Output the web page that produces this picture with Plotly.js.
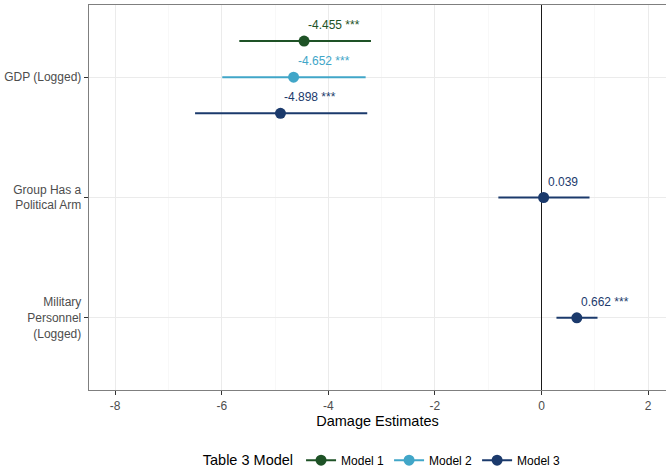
<!DOCTYPE html>
<html>
<head>
<meta charset="utf-8">
<script src="https://cdn.plot.ly/plotly-3.0.1.min.js"></script>
<style>html,body{margin:0;padding:0;background:#fff;}#chart{width:666px;height:471px;}</style>
</head>
<body>
<div id="chart"></div>
<script>
// ---- data ----
const categories = ["GDP (Logged)", "Group Has a<br>Political Arm", "Military<br>Personnel<br>(Logged)"];
const models = ["Model 1", "Model 2", "Model 3"];
const colors = ["#1e5226", "#41a6c8", "#1b3a6c"];
const xTickVals = [-8, -6, -4, -2, 0, 2];
const xTickText = ["-8", "-6", "-4", "-2", "0", "2"];
// estimates per model (null = not in model), aligned with categories
const est1 = [-4.455, null, null];
const est2 = [-4.652, null, null];
const est3 = [-4.898, 0.039, 0.662];
const lo1 = [-5.67, null, null];
const lo2 = [-5.99, null, null];
const lo3 = [-6.50, -0.81, 0.28];
const hi1 = [-3.20, null, null];
const hi2 = [-3.30, null, null];
const hi3 = [-3.27, 0.90, 1.05];
const stars1 = ["***", "", ""];
const stars2 = ["***", "", ""];
const stars3 = ["***", "", "***"];

const ests = [est1, est2, est3];
const los = [lo1, lo2, lo3];
const his = [hi1, hi2, hi3];
const stars = [stars1, stars2, stars3];

// dodge positions (ggplot-like position_dodge, width 0.9)
const dodgeW = 0.9;
function dodgePos(mi, ci) {
  const present = [];
  for (let m = 0; m < models.length; m++) if (ests[m][ci] !== null) present.push(m);
  const n = present.length;
  const k = present.indexOf(mi);
  return (ci + 1) + (k - (n - 1) / 2) * (dodgeW / n);
}

const FONT = "Liberation Sans, Arial, sans-serif";
const traces = [];
const annotations = [];
models.forEach((name, mi) => {
  const xs = [], ys = [], ep = [], em = [];
  categories.forEach((c, ci) => {
    const v = ests[mi][ci];
    if (v === null) return;
    const y = dodgePos(mi, ci);
    if (xs.length) { xs.push(null); ys.push(null); ep.push(null); em.push(null); }
    xs.push(v); ys.push(y);
    ep.push(his[mi][ci] - v); em.push(v - los[mi][ci]);
    const label = v.toFixed(3) + (stars[mi][ci] ? " " + stars[mi][ci] : "");
    annotations.push({
      x: v, y: y, xref: "x", yref: "y",
      text: label, showarrow: false,
      xanchor: "left", yanchor: "middle",
      xshift: 2, yshift: 16,
      font: {family: FONT, size: 12, color: colors[mi]}
    });
  });
  traces.push({
    type: "scatter", mode: "lines+markers", name: name,
    x: xs, y: ys, connectgaps: false,
    line: {color: colors[mi], width: 2},
    marker: {color: colors[mi], size: 11},
    error_x: {type: "data", symmetric: false, array: ep, arrayminus: em,
              color: colors[mi], thickness: 2, width: 0},
    cliponaxis: false
  });
});

const layout = {
  width: 666, height: 471,
  margin: {l: 89, r: 0, t: 5, b: 81},
  paper_bgcolor: "#fff", plot_bgcolor: "#fff",
  font: {family: FONT, size: 12, color: "#4d4d4d"},
  showlegend: true,
  xaxis: {
    range: [-8.49, 2.335],
    tickmode: "array", tickvals: xTickVals, ticktext: xTickText,
    ticks: "outside", ticklen: 4, tickcolor: "#333", tickwidth: 1,
    tickfont: {size: 12, color: "#4d4d4d"},
    showgrid: true, gridcolor: "#ebebeb", gridwidth: 1,
    minor: {tick0: 1, dtick: 2, tickmode: "linear", showgrid: true, gridcolor: "#f4f4f4", gridwidth: 0.6, ticks: ""},
    zeroline: true, zerolinecolor: "#1a1a1a", zerolinewidth: 1,
    showline: true, linecolor: "#7f7f7f", linewidth: 1.3, mirror: true,
    automargin: false,
    title: {text: "Damage Estimates", font: {size: 14.5, color: "#000"}, standoff: 4}
  },
  yaxis: {
    range: [3.6, 0.4],
    tickmode: "array", tickvals: categories.map((c, i) => i + 1), ticktext: categories,
    ticks: "outside", ticklen: 4, tickcolor: "#333", tickwidth: 1,
    tickfont: {size: 12, color: "#4d4d4d"},
    showgrid: true, gridcolor: "#ebebeb", gridwidth: 1,
    zeroline: false, automargin: false,
    showline: true, linecolor: "#7f7f7f", linewidth: 1.3, mirror: false
  },
  legend: {
    orientation: "h", x: 0.51, xanchor: "center",
    yref: "container", y: 0.023, yanchor: "middle",
    title: {text: "Table 3 Model", font: {size: 14.5, color: "#000"}, side: "left"},
    font: {size: 12, color: "#000"}, itemwidth: 30, tracegroupgap: 0
  },
  annotations: annotations
};

Plotly.newPlot("chart", traces, layout, {staticPlot: true, displayModeBar: false});
</script>
</body>
</html>
